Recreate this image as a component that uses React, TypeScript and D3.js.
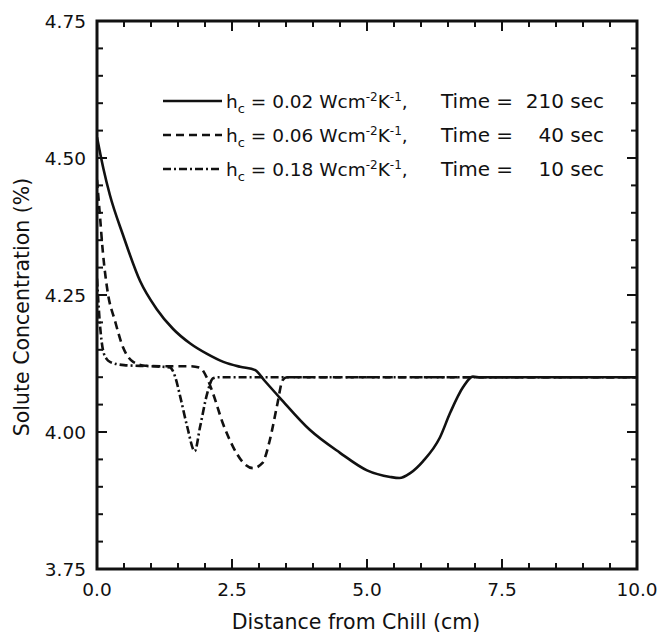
import React from 'react';
import * as d3 from 'd3';

// ---- data ----
const xMajorTicks = [0, 2.5, 5, 7.5, 10];
const xTickLabels = ['0.0', '2.5', '5.0', '7.5', '10.0'];
const yMajorTicks = [3.75, 4.0, 4.25, 4.5, 4.75];
const yTickLabels = ['3.75', '4.00', '4.25', '4.50', '4.75'];

const solidX = [0, 0.12, 0.24, 0.48, 0.8, 1.1, 1.41, 1.72, 2.03, 2.34, 2.65, 2.93, 3.1, 3.39, 3.94, 4.5, 5.0, 5.43, 5.6, 5.8, 6.04, 6.35, 6.54, 6.78, 6.96, 7.1, 10];
const solidY = [4.538, 4.48, 4.432, 4.36, 4.275, 4.225, 4.188, 4.162, 4.143, 4.128, 4.119, 4.113, 4.094, 4.062, 4.004, 3.962, 3.93, 3.918, 3.916, 3.925, 3.947, 3.99, 4.035, 4.082, 4.101, 4.1, 4.1];

const dashedX = [0, 0.05, 0.11, 0.2, 0.33, 0.48, 0.67, 0.9, 1.3, 1.72, 1.91, 2.03, 2.15, 2.33, 2.52, 2.7, 2.89, 3.06, 3.2, 3.33, 3.44, 3.52, 10];
const dashedY = [4.46, 4.4, 4.327, 4.254, 4.204, 4.155, 4.128, 4.121, 4.12, 4.12, 4.117, 4.1, 4.07, 4.016, 3.973, 3.945, 3.934, 3.943, 3.985, 4.046, 4.095, 4.1, 4.1];

const dashDotX = [0, 0.03, 0.06, 0.11, 0.18, 0.24, 0.5, 1.0, 1.35, 1.45, 1.54, 1.67, 1.81, 1.91, 2.04, 2.15, 2.25, 10];
const dashDotY = [4.28, 4.23, 4.19, 4.15, 4.133, 4.128, 4.122, 4.12, 4.118, 4.1, 4.065, 4.01, 3.965, 4.01, 4.07, 4.098, 4.1, 4.1];

const legendH = ['0.02', '0.06', '0.18'];
const legendTime = ['210', '40', '10'];

const xLabel = 'Distance from Chill (cm)';
const yLabel = 'Solute Concentration (%)';

// ---- layout ----
const W = 659, H = 635;
const L = 97, R = 637, T = 21, B = 569;
const FONT = '"DejaVu Sans", sans-serif';

export default function App() {
  const x = d3.scaleLinear().domain([0, 10]).range([L, R]);
  const y = d3.scaleLinear().domain([3.75, 4.75]).range([B, T]);

  const mk = (xs: number[], ys: number[]) =>
    d3.line<number>().x((_, i) => x(xs[i])).y((_, i) => y(ys[i])).curve(d3.curveMonotoneX)(xs) || '';

  const series = [
    { d: mk(solidX, solidY), dash: undefined as string | undefined },
    { d: mk(dashedX, dashedY), dash: '8 5' },
    { d: mk(dashDotX, dashDotY), dash: '8 3 2 3' },
  ];

  const xMinor = d3.range(0, 10.001, 0.5).filter((v) => !xMajorTicks.some((m) => Math.abs(m - v) < 1e-6));
  const yMinor = d3.range(3.75, 4.7501, 0.05).filter((v) => !yMajorTicks.some((m) => Math.abs(m - v) < 1e-6));

  const maj = 10, min = 6;
  const legendRows = [101, 135, 169];

  return (
    <svg width={W} height={H} style={{ position: 'absolute', left: 0, top: 0, background: '#fff' }} fontFamily={FONT}>
      <rect x={0} y={0} width={W} height={H} fill="#fff" />
      <defs>
        <clipPath id="plot">
          <rect x={L} y={T} width={R - L} height={B - T} />
        </clipPath>
      </defs>
      {/* curves */}
      <g clipPath="url(#plot)">
        {series.map((s, i) => (
          <path key={i} d={s.d} fill="none" stroke="#111" strokeWidth={2.6} strokeDasharray={s.dash} />
        ))}
      </g>
      {/* ticks */}
      <g stroke="#111" strokeWidth={2}>
        {xMajorTicks.map((v, i) => (
          <g key={'xm' + i}>
            <line x1={x(v)} x2={x(v)} y1={B} y2={B - maj} />
            <line x1={x(v)} x2={x(v)} y1={T} y2={T + maj} />
          </g>
        ))}
        {xMinor.map((v, i) => (
          <g key={'xn' + i}>
            <line x1={x(v)} x2={x(v)} y1={B} y2={B - min} />
            <line x1={x(v)} x2={x(v)} y1={T} y2={T + min} />
          </g>
        ))}
        {yMajorTicks.map((v, i) => (
          <g key={'ym' + i}>
            <line x1={L} x2={L + maj} y1={y(v)} y2={y(v)} />
            <line x1={R} x2={R - maj} y1={y(v)} y2={y(v)} />
          </g>
        ))}
        {yMinor.map((v, i) => (
          <g key={'yn' + i}>
            <line x1={L} x2={L + min} y1={y(v)} y2={y(v)} />
            <line x1={R} x2={R - min} y1={y(v)} y2={y(v)} />
          </g>
        ))}
      </g>
      {/* frame */}
      <rect x={L} y={T} width={R - L} height={B - T} fill="none" stroke="#111" strokeWidth={3} />
      {/* tick labels */}
      <g fontSize={18.5} fill="#111">
        {xMajorTicks.map((v, i) => (
          <text key={'xl' + i} x={x(v)} y={596} textAnchor="middle">{xTickLabels[i]}</text>
        ))}
        {yMajorTicks.map((v, i) => (
          <text key={'yl' + i} x={86} y={y(v) + 7} textAnchor="end">{yTickLabels[i]}</text>
        ))}
      </g>
      {/* axis titles */}
      <text x={(L + R) / 2 - 11} y={629} textAnchor="middle" fontSize={20.5} fill="#111">{xLabel}</text>
      <text transform={`translate(29, 307) rotate(-90)`} textAnchor="middle" fontSize={20.5} fill="#111">{yLabel}</text>
      {/* legend */}
      <g fontSize={18.5} fill="#111">
        {legendRows.map((ry, i) => (
          <g key={'lg' + i}>
            <line x1={163} x2={222} y1={ry} y2={ry} stroke="#111" strokeWidth={2.4} strokeDasharray={series[i].dash} />
            <text x={226} y={ry + 7}>
              h<tspan fontSize={13} dy={5}>c</tspan>
              <tspan dy={-5}>{` = ${legendH[i]} Wcm`}</tspan>
              <tspan fontSize={12} dy={-7}>-2</tspan>
              <tspan dy={7}>K</tspan>
              <tspan fontSize={12} dy={-7}>-1</tspan>
              <tspan dy={7}>,</tspan>
            </text>
            <text x={441} y={ry + 7} fontSize={20}>Time =</text>
            <text x={604} y={ry + 7} fontSize={20} textAnchor="end">{`${legendTime[i]} sec`}</text>
          </g>
        ))}
      </g>
    </svg>
  );
}
